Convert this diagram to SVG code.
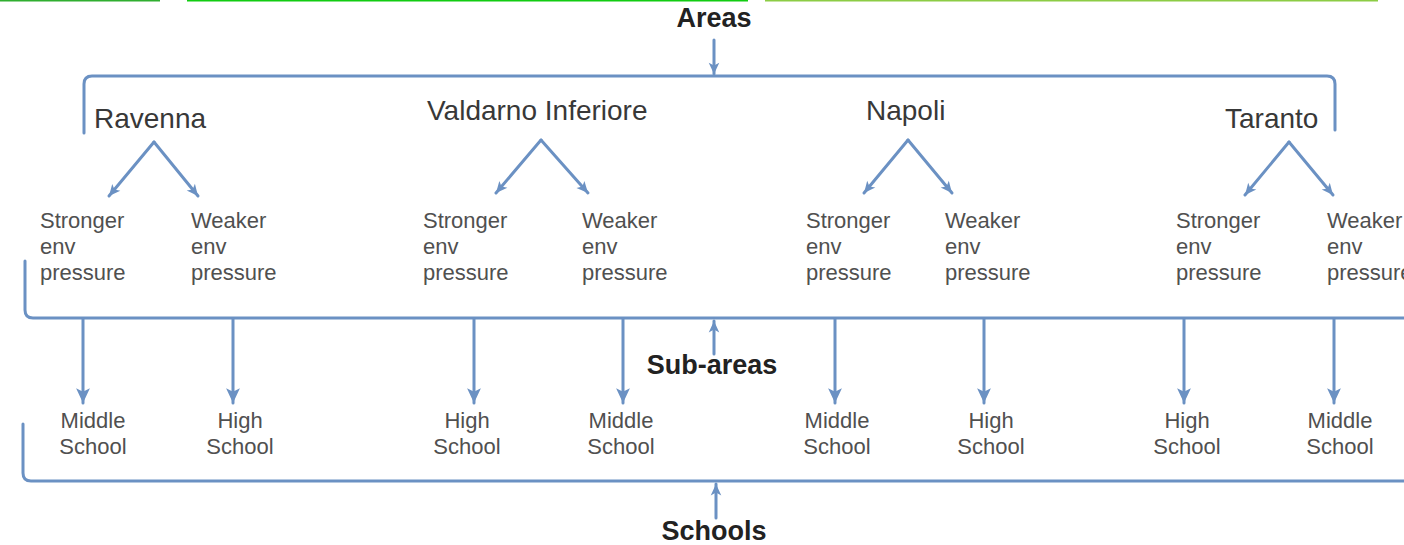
<svg xmlns="http://www.w3.org/2000/svg" width="1404" height="545" viewBox="0 0 1404 545">
<style>
.bg{fill:#ffffff}
.ln{fill:none;stroke:#6b91c3;stroke-width:3;stroke-linecap:round;stroke-linejoin:round}
.big{font-family:"Liberation Sans",Arial,sans-serif;font-size:28px;fill:#383838}
.sm{font-family:"Liberation Sans",Arial,sans-serif;font-size:22px;fill:#505050}
.bold{font-family:"Liberation Sans",Arial,sans-serif;font-size:27px;font-weight:bold;fill:#222222;text-anchor:middle}
.mid{text-anchor:middle}
</style>
<defs>
<marker id="ah" viewBox="0 0 16 16" markerWidth="17" markerHeight="17" refX="15" refY="8" orient="auto" markerUnits="userSpaceOnUse">
<path d="M1,1.5 L15,8 L1,14.5 L4.5,8 z" fill="#6b91c3"/>
</marker>
<marker id="ahs" viewBox="0 0 16 16" markerWidth="13" markerHeight="13" refX="15" refY="8" orient="auto" markerUnits="userSpaceOnUse">
<path d="M1,1.5 L15,8 L1,14.5 L4.5,8 z" fill="#6b91c3"/>
</marker>
</defs>
<rect class="bg" x="0" y="0" width="1404" height="545"/>
<g id="top-strip">
<line x1="0" y1="0.5" x2="160" y2="0.5" stroke="#2fae2f" stroke-width="2"/>
<line x1="187" y1="0.5" x2="748" y2="0.5" stroke="#11cc11" stroke-width="2"/>
<line x1="765" y1="0.5" x2="1378" y2="0.5" stroke="#8ccc44" stroke-width="2"/>
</g>
<g id="connectors">
<path class="ln" d="M84,133 V84 Q84,76 92,76 H1327 Q1335,76 1335,84 V130"/>
<path class="ln" d="M25,261 V310 Q25,318 33,318 H1406"/>
<path class="ln" d="M23,424 V473 Q23,481 31,481 H1406"/>
<line class="ln" x1="714" y1="40" x2="714" y2="74" marker-end="url(#ahs)"/>
<line class="ln" x1="714" y1="354" x2="714" y2="321" marker-end="url(#ahs)"/>
<line class="ln" x1="716" y1="518" x2="716" y2="484" marker-end="url(#ahs)"/>
<line class="ln" x1="154" y1="142" x2="109" y2="196" marker-end="url(#ahs)"/>
<line class="ln" x1="154" y1="142" x2="198" y2="196" marker-end="url(#ahs)"/>
<line class="ln" x1="541" y1="140" x2="496" y2="193" marker-end="url(#ahs)"/>
<line class="ln" x1="541" y1="140" x2="588" y2="193" marker-end="url(#ahs)"/>
<line class="ln" x1="908" y1="140" x2="864" y2="193" marker-end="url(#ahs)"/>
<line class="ln" x1="908" y1="140" x2="952" y2="193" marker-end="url(#ahs)"/>
<line class="ln" x1="1289" y1="142" x2="1245" y2="195" marker-end="url(#ahs)"/>
<line class="ln" x1="1289" y1="142" x2="1333" y2="195" marker-end="url(#ahs)"/>
<line class="ln" x1="83" y1="319" x2="83" y2="403" marker-end="url(#ah)"/>
<line class="ln" x1="233" y1="319" x2="233" y2="403" marker-end="url(#ah)"/>
<line class="ln" x1="474" y1="319" x2="474" y2="403" marker-end="url(#ah)"/>
<line class="ln" x1="623" y1="319" x2="623" y2="403" marker-end="url(#ah)"/>
<line class="ln" x1="835" y1="319" x2="835" y2="403" marker-end="url(#ah)"/>
<line class="ln" x1="984" y1="319" x2="984" y2="403" marker-end="url(#ah)"/>
<line class="ln" x1="1184" y1="319" x2="1184" y2="403" marker-end="url(#ah)"/>
<line class="ln" x1="1334" y1="319" x2="1334" y2="403" marker-end="url(#ah)"/>
</g>
<g id="label-areas"><text class="bold" x="714" y="27">Areas</text></g>
<g id="label-subareas"><text class="bold" x="712" y="374">Sub-areas</text></g>
<g id="label-schools"><text class="bold" x="714" y="540">Schools</text></g>
<g id="area-ravenna"><text class="big" x="94" y="128">Ravenna</text></g>
<g id="area-valdarno"><text class="big" x="427" y="120">Valdarno Inferiore</text></g>
<g id="area-napoli"><text class="big" x="866" y="120">Napoli</text></g>
<g id="area-taranto"><text class="big" x="1225" y="128">Taranto</text></g>
<g id="sub-ravenna-strong"><text class="sm" x="40" y="228">Stronger</text><text class="sm" x="40" y="254">env</text><text class="sm" x="40" y="280">pressure</text></g>
<g id="sub-ravenna-weak"><text class="sm" x="191" y="228">Weaker</text><text class="sm" x="191" y="254">env</text><text class="sm" x="191" y="280">pressure</text></g>
<g id="sub-valdarno-strong"><text class="sm" x="423" y="228">Stronger</text><text class="sm" x="423" y="254">env</text><text class="sm" x="423" y="280">pressure</text></g>
<g id="sub-valdarno-weak"><text class="sm" x="582" y="228">Weaker</text><text class="sm" x="582" y="254">env</text><text class="sm" x="582" y="280">pressure</text></g>
<g id="sub-napoli-strong"><text class="sm" x="806" y="228">Stronger</text><text class="sm" x="806" y="254">env</text><text class="sm" x="806" y="280">pressure</text></g>
<g id="sub-napoli-weak"><text class="sm" x="945" y="228">Weaker</text><text class="sm" x="945" y="254">env</text><text class="sm" x="945" y="280">pressure</text></g>
<g id="sub-taranto-strong"><text class="sm" x="1176" y="228">Stronger</text><text class="sm" x="1176" y="254">env</text><text class="sm" x="1176" y="280">pressure</text></g>
<g id="sub-taranto-weak"><text class="sm" x="1327" y="228">Weaker</text><text class="sm" x="1327" y="254">env</text><text class="sm" x="1327" y="280">pressure</text></g>
<g id="school-1"><text class="sm mid" x="93" y="428">Middle</text><text class="sm mid" x="93" y="454">School</text></g>
<g id="school-2"><text class="sm mid" x="240" y="428">High</text><text class="sm mid" x="240" y="454">School</text></g>
<g id="school-3"><text class="sm mid" x="467" y="428">High</text><text class="sm mid" x="467" y="454">School</text></g>
<g id="school-4"><text class="sm mid" x="621" y="428">Middle</text><text class="sm mid" x="621" y="454">School</text></g>
<g id="school-5"><text class="sm mid" x="837" y="428">Middle</text><text class="sm mid" x="837" y="454">School</text></g>
<g id="school-6"><text class="sm mid" x="991" y="428">High</text><text class="sm mid" x="991" y="454">School</text></g>
<g id="school-7"><text class="sm mid" x="1187" y="428">High</text><text class="sm mid" x="1187" y="454">School</text></g>
<g id="school-8"><text class="sm mid" x="1340" y="428">Middle</text><text class="sm mid" x="1340" y="454">School</text></g>
</svg>
